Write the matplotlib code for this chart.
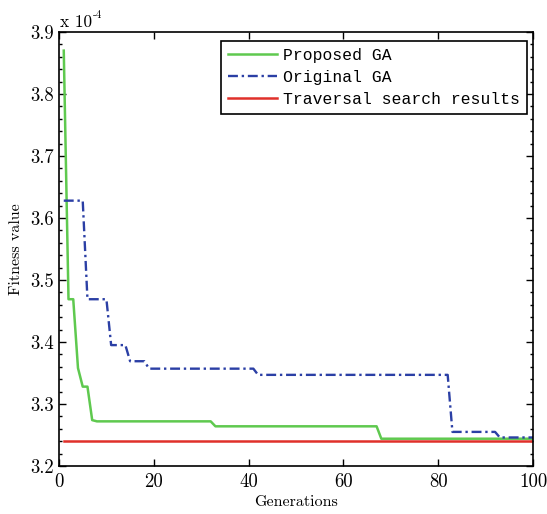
import matplotlib
matplotlib.use("Agg")
import matplotlib.pyplot as plt
from matplotlib.ticker import MultipleLocator

# Fitness values in units of 1e-4, one value per generation breakpoint
proposed_gen = [1, 2, 3, 4, 5, 6, 7, 8, 32, 33, 67, 68, 100]
proposed_fit = [3.870, 3.469, 3.469, 3.358, 3.328, 3.328, 3.274, 3.272, 3.272, 3.264, 3.264, 3.244, 3.244]

original_gen = [1, 5, 6, 10, 11, 14, 15, 18, 19, 41, 42, 82, 83, 92, 93, 100]
original_fit = [3.628, 3.628, 3.469, 3.469, 3.395, 3.395, 3.369, 3.369, 3.357, 3.357, 3.347, 3.347, 3.255, 3.255, 3.246, 3.246]

traversal_gen = [1, 100]
traversal_fit = [3.240, 3.240]

series_labels = ["Proposed GA", "Original GA", "Traversal search results"]
x_ticks = [0, 20, 40, 60, 80, 100]
y_ticks = [3.2, 3.3, 3.4, 3.5, 3.6, 3.7, 3.8, 3.9]

serif = ["cmr10", "DejaVu Serif"]
plt.rcParams["axes.formatter.use_mathtext"] = True

fig = plt.figure(figsize=(5.47, 5.14), dpi=100)
ax = fig.add_axes([0.1079, 0.0934, 0.8665, 0.8443])

ax.plot(proposed_gen, proposed_fit, color="#5fc94f", lw=1.8, label=series_labels[0])
ax.plot(original_gen, original_fit, color="#2b3fa5", lw=1.7,
        linestyle=(0, (4.2, 1.6, 1.0, 1.6)), label=series_labels[1])
ax.plot(traversal_gen, traversal_fit, color="#e0302a", lw=1.8, label=series_labels[2])

ax.set_xlim(0, 100)
ax.set_ylim(3.2, 3.9)
ax.set_xticks(x_ticks)
ax.set_yticks(y_ticks)
ax.yaxis.set_minor_locator(MultipleLocator(0.02))
ax.set_xticklabels([str(v) for v in x_ticks], family=serif, fontsize=13.5)
ax.set_yticklabels([f"{v:.1f}" for v in y_ticks], family=serif, fontsize=13.5)
ax.tick_params(which="both", direction="in", top=True, right=True, width=1)
ax.tick_params(which="major", length=5)
ax.tick_params(axis="y", which="major", pad=3.5)
ax.tick_params(axis="x", which="major", pad=5)
ax.tick_params(which="minor", length=2.5)
for s in ax.spines.values():
    s.set_linewidth(1.2)

ax.set_xlabel("Generations", family=serif, fontsize=11.5, labelpad=3)
ax.set_ylabel("Fitness value", family=serif, fontsize=11.5, labelpad=5)

# exponent label above the y axis
base = ax.text(0.002, 1.004, "x 10", transform=ax.transAxes, family=serif,
               fontsize=12.5, ha="left", va="bottom")
ax.annotate("-4", xy=(1, 1), xycoords=base, xytext=(0.5, 3),
            textcoords="offset points", family=serif, fontsize=8,
            ha="left", va="top")

leg = ax.legend(loc="upper right", bbox_to_anchor=(0.988, 0.98),
                prop={"family": "Liberation Mono", "size": 11.8},
                fancybox=False, framealpha=1, edgecolor="black",
                handlelength=3.0, handletextpad=0.35, labelspacing=0.42,
                borderpad=0.45, borderaxespad=0)
leg.get_frame().set_linewidth(1.2)

fig.savefig("out.png", dpi=100)
